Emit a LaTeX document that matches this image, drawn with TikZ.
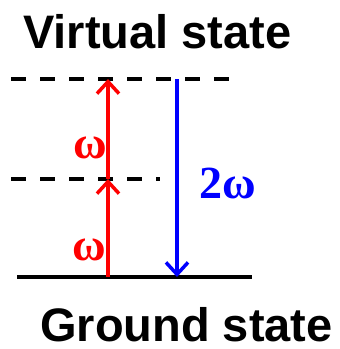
\documentclass[tikz,border=0pt]{standalone}
\usepackage{fontspec}
\setsansfont{Liberation Sans}
\newfontfamily\symbfont{Liberation Serif}
\usetikzlibrary{arrows.meta}

\begin{document}
\begin{tikzpicture}[x=1pt,y=-1pt,
    level/.style={line width=3.5pt},
    virt/.style={level,dash pattern=on 15pt off 14pt},
    photon/.style={line width=3.5pt,-{Straight Barb[length=12pt,width=22pt]}},
    title/.style={inner sep=0pt,anchor=base west,font=\sffamily\bfseries\fontsize{47}{50}\selectfont},
    freq/.style={inner sep=0pt,font=\symbfont\bfseries\fontsize{46}{50}\selectfont}]
  \useasboundingbox (0,0) rectangle (340,349);
  \coordinate (vl) at (11,79);  \coordinate (vr) at (232,79);
  \coordinate (ml) at (11,179); \coordinate (mr) at (160,179);
  \coordinate (gl) at (17,277); \coordinate (gr) at (252,277);
  \coordinate (up0) at (108,277); \coordinate (up1) at (108,179); \coordinate (up2) at (108,79);
  \coordinate (dn0) at (177,79);  \coordinate (dn1) at (177,277);
  \draw[virt] (vl)--(vr); \draw[virt] (ml)--(mr);
  \draw[level] (gl)--(gr);
  \draw[photon,red] (up0)--(up1); \draw[photon,red] (up1)--(up2);
  \draw[photon,blue] (dn0)--(dn1);
  \node[title] (virtual) at (23,48) {Virtual state};
  \node[title] (ground) at (40,341) {Ground state};
  \node[freq,red] (w1) at (90,148) {ω};
  \node[freq,red] (w2) at (89,250) {ω};
  \node[freq,blue,anchor=base west] (w3) at (199,198) {2ω};
\end{tikzpicture}
\end{document}
